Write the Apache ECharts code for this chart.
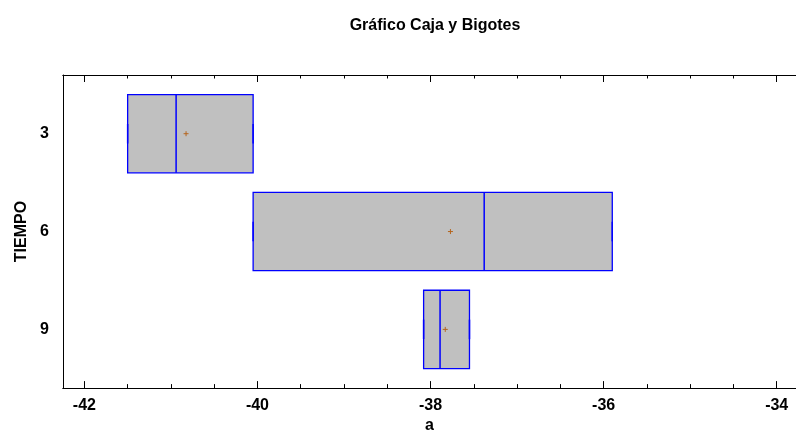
<!DOCTYPE html>
<html>
<head>
<meta charset="utf-8">
<script src="https://cdn.jsdelivr.net/npm/echarts@6/dist/echarts.min.js"></script>
<style>html,body{margin:0;padding:0;background:#fff}#c{width:796px;height:439px}</style>
</head>
<body>
<div id="c"></div>
<script>
// Data
const categories = ['3', '6', '9'];
const q1Values = [-41.50, -40.05, -38.08];
const medianValues = [-40.94, -37.38, -37.89];
const q3Values = [-40.05, -35.90, -37.55];
const minValues = [-41.50, -40.05, -38.08];
const maxValues = [-40.05, -35.90, -37.55];
const meanValues = [-40.825, -37.77, -37.83];
const majorTicks = [-42, -40, -38, -36, -34];
const minorTicks = [-42, -41.5, -41, -40.5, -40, -39.5, -39, -38.5, -38, -37.5, -37, -36.5, -36, -35.5, -35, -34.5, -34];

const FONT = '"Liberation Sans", Arial, sans-serif';
const rows = categories.map((c, i) => [i + 1, minValues[i], q1Values[i], medianValues[i], q3Values[i], maxValues[i], meanValues[i]]);

const XMIN = -42.247, XMAX = -33.777;
function xAxisDef(pos, ticks, len, showLabel, showName) {
  return {
    type: 'value', position: pos, min: XMIN, max: XMAX,
    name: showName ? 'a' : '', nameLocation: 'middle', nameGap: 29,
    nameTextStyle: {fontFamily: FONT, fontWeight: 'bold', fontSize: 16, color: '#000'},
    axisLine: {show: true, lineStyle: {color: '#000', width: 1}},
    axisTick: {show: true, inside: true, length: len, customValues: ticks, lineStyle: {color: '#000', width: 1}},
    axisLabel: {show: showLabel, customValues: majorTicks, margin: 9, fontFamily: FONT, fontWeight: 'bold', fontSize: 16, color: '#000'},
    splitLine: {show: false}
  };
}

const chart = echarts.init(document.getElementById('c'), null, {renderer: 'canvas'});
chart.setOption({
  animation: false,
  backgroundColor: '#fff',
  title: {
    text: 'Gráfico Caja y Bigotes', left: 430, top: 13, textAlign: 'center',
    textStyle: {fontFamily: FONT, fontWeight: 'bold', fontSize: 16, color: '#000'}
  },
  grid: {left: 63, right: 0, top: 75, bottom: 48},
  xAxis: [
    xAxisDef('bottom', majorTicks, 7, true, true),
    xAxisDef('bottom', minorTicks, 4, false, false),
    xAxisDef('top', majorTicks, 7, false, false),
    xAxisDef('top', minorTicks, 3.5, false, false)
  ],
  yAxis: {
    type: 'value', min: 0.4, max: 3.6, inverse: true,
    name: 'TIEMPO', nameLocation: 'middle', nameGap: 33, nameRotate: 90,
    nameTextStyle: {fontFamily: FONT, fontWeight: 'bold', fontSize: 16, color: '#000'},
    axisLine: {show: true, lineStyle: {color: '#000', width: 1}},
    axisTick: {show: false},
    axisLabel: {
      customValues: [1, 2, 3], margin: 14,
      formatter: v => categories[Math.round(v) - 1] || '',
      fontFamily: FONT, fontWeight: 'bold', fontSize: 16, color: '#000'
    },
    splitLine: {show: false}
  },
  series: [{
    type: 'custom',
    xAxisIndex: 0,
    data: rows,
    encode: {x: [1, 2, 3, 4, 5, 6], y: 0},
    renderItem: function (params, api) {
      const y = api.value(0);
      const pMin = api.coord([api.value(1), y]);
      const pQ1 = api.coord([api.value(2), y]);
      const pMed = api.coord([api.value(3), y]);
      const pQ3 = api.coord([api.value(4), y]);
      const pMax = api.coord([api.value(5), y]);
      const pMean = api.coord([api.value(6), y]);
      const half = api.size([0, 0.4])[1];
      const cap = api.size([0, 0.1])[1];
      const cy = pQ1[1];
      const blue = '#0000ff';
      const m = 2.5;
      return {
        type: 'group',
        children: [
          {type: 'line', shape: {x1: pMin[0], y1: cy, x2: pQ1[0], y2: cy}, style: {stroke: blue, lineWidth: 1}},
          {type: 'line', shape: {x1: pQ3[0], y1: cy, x2: pMax[0], y2: cy}, style: {stroke: blue, lineWidth: 1}},
          {type: 'rect', shape: {x: pQ1[0], y: cy - half, width: pQ3[0] - pQ1[0], height: 2 * half},
            style: {fill: '#c0c0c0', stroke: blue, lineWidth: 1.3}},
          {type: 'line', shape: {x1: pMin[0], y1: cy - cap, x2: pMin[0], y2: cy + cap}, style: {stroke: blue, lineWidth: 1.5}},
          {type: 'line', shape: {x1: pMax[0], y1: cy - cap, x2: pMax[0], y2: cy + cap}, style: {stroke: blue, lineWidth: 1.5}},
          {type: 'line', shape: {x1: pMed[0], y1: cy - half, x2: pMed[0], y2: cy + half}, style: {stroke: blue, lineWidth: 1.5}},
          {type: 'line', shape: {x1: pMean[0] - m, y1: cy, x2: pMean[0] + m, y2: cy}, style: {stroke: '#b5651d', lineWidth: 1}},
          {type: 'line', shape: {x1: pMean[0], y1: cy - m, x2: pMean[0], y2: cy + m}, style: {stroke: '#b5651d', lineWidth: 1}}
        ]
      };
    }
  }]
});
</script>
</body>
</html>
